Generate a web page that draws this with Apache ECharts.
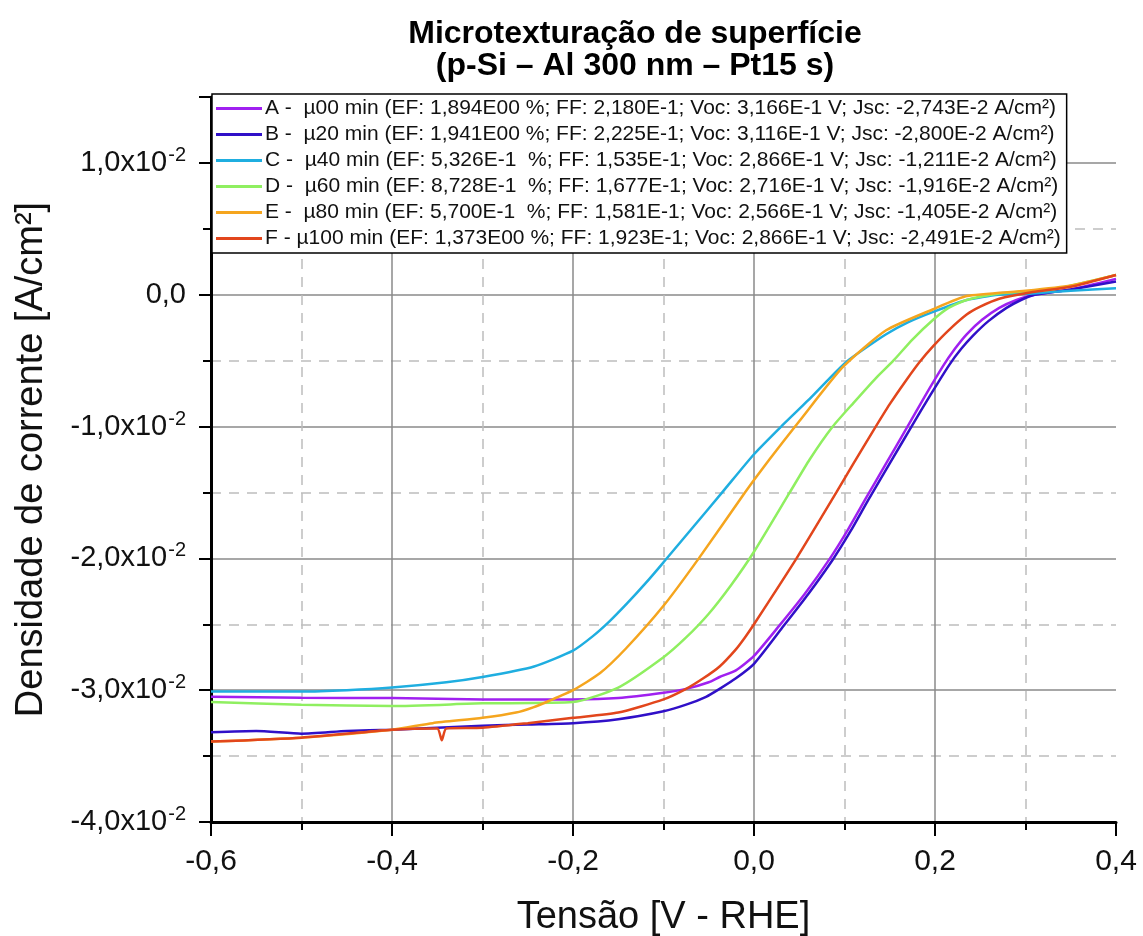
<!DOCTYPE html>
<html>
<head>
<meta charset="utf-8">
<script src="https://cdn.jsdelivr.net/npm/echarts@6/dist/echarts.min.js"></script>
<style>
  html, body { margin: 0; padding: 0; background: #fff; }
  #chart { width: 1143px; height: 936px; }
</style>
</head>
<body>
<div id="chart"></div>
<script>
// ---- Data ----
const seriesNames = [
  'A -  µ00 min (EF: 1,894E00 %; FF: 2,180E-1; Voc: 3,166E-1 V; Jsc: -2,743E-2 A/cm²)',
  'B -  µ20 min (EF: 1,941E00 %; FF: 2,225E-1; Voc: 3,116E-1 V; Jsc: -2,800E-2 A/cm²)',
  'C -  µ40 min (EF: 5,326E-1  %; FF: 1,535E-1; Voc: 2,866E-1 V; Jsc: -1,211E-2 A/cm²)',
  'D -  µ60 min (EF: 8,728E-1  %; FF: 1,677E-1; Voc: 2,716E-1 V; Jsc: -1,916E-2 A/cm²)',
  'E -  µ80 min (EF: 5,700E-1  %; FF: 1,581E-1; Voc: 2,566E-1 V; Jsc: -1,405E-2 A/cm²)',
  'F - µ100 min (EF: 1,373E00 %; FF: 1,923E-1; Voc: 2,866E-1 V; Jsc: -2,491E-2 A/cm²)'
];

const xA = [-0.6,-0.5,-0.4,-0.3,-0.2,-0.15,-0.1,-0.075,-0.05,-0.038,-0.02,0.0,0.028,0.056,0.084,0.104,0.124,0.146,0.168,0.188,0.209,0.222,0.235,0.252,0.271,0.29,0.31,0.35,0.4];
const yA = [-0.0305,-0.03058,-0.0306,-0.0307,-0.0307,-0.0306,-0.0302,-0.0299,-0.0294,-0.0290,-0.0285,-0.0274,-0.0251,-0.0227,-0.0200,-0.0178,-0.0154,-0.0128,-0.0102,-0.0078,-0.0054,-0.0041,-0.0030,-0.0019,-0.0010,-0.0004,0.0,0.0004,0.0012];

const xB = [-0.6,-0.55,-0.5,-0.45,-0.4,-0.3,-0.25,-0.2,-0.15,-0.1,-0.075,-0.053,-0.038,-0.02,0.0,0.033,0.06,0.087,0.107,0.126,0.150,0.174,0.195,0.216,0.229,0.242,0.259,0.279,0.295,0.31,0.35,0.4];
const yB = [-0.0332,-0.0331,-0.0333,-0.0331,-0.0330,-0.0327,-0.0326,-0.0325,-0.0322,-0.0316,-0.0311,-0.0305,-0.0299,-0.0291,-0.0280,-0.0251,-0.0227,-0.0201,-0.0179,-0.0156,-0.0128,-0.0100,-0.0076,-0.0053,-0.0041,-0.0031,-0.0020,-0.0010,-0.0004,0.0,0.0004,0.0010];

const xC = [-0.6,-0.5,-0.45,-0.4,-0.34,-0.3,-0.243,-0.2,-0.178,-0.16,-0.14,-0.12,-0.1,-0.067,-0.034,0.0,0.03,0.06,0.084,0.102,0.12,0.146,0.17,0.198,0.235,0.27,0.308,0.35,0.4];
const yC = [-0.0301,-0.0301,-0.0300,-0.0298,-0.0294,-0.0290,-0.0282,-0.0270,-0.0259,-0.0248,-0.0234,-0.0219,-0.0203,-0.0176,-0.0149,-0.0121,-0.0100,-0.0080,-0.0063,-0.0051,-0.0042,-0.0030,-0.0021,-0.0013,-0.0004,0.0,0.0001,0.0003,0.0005];

const xD = [-0.6,-0.5,-0.4,-0.3,-0.2,-0.15,-0.1,-0.075,-0.05,-0.025,0.0,0.0395,0.0615,0.087,0.11,0.135,0.154,0.175,0.198,0.215,0.235,0.271,0.33,0.4];
const yD = [-0.0309,-0.0311,-0.0312,-0.0310,-0.0309,-0.0298,-0.0275,-0.0260,-0.0242,-0.0220,-0.0195,-0.0150,-0.0125,-0.0100,-0.0082,-0.0063,-0.0050,-0.0034,-0.0019,-0.0010,-0.0004,0.0001,0.0004,0.0015];

const xE = [-0.6,-0.5,-0.4,-0.355,-0.3,-0.263,-0.244,-0.226,-0.2,-0.17,-0.141,-0.1,-0.061,-0.010,0.0,0.017,0.050,0.098,0.146,0.198,0.235,0.3,0.35,0.4];
const yE = [-0.0339,-0.0336,-0.0330,-0.0325,-0.0321,-0.0317,-0.0313,-0.0308,-0.0300,-0.0287,-0.0268,-0.0236,-0.0200,-0.0150,-0.01405,-0.0125,-0.0096,-0.0055,-0.0027,-0.0011,-0.0001,0.0003,0.0007,0.0015];

const xF = [-0.6,-0.5,-0.4,-0.35,-0.345,-0.34,-0.3,-0.25,-0.2,-0.15,-0.1,-0.075,-0.056,-0.038,-0.02,-0.01,0.0,0.047,0.091,0.109,0.131,0.15,0.168,0.183,0.198,0.215,0.235,0.25,0.271,0.308,0.35,0.4];
const yF = [-0.0339,-0.0336,-0.0330,-0.0329,-0.0338,-0.0329,-0.03285,-0.0325,-0.0321,-0.0317,-0.0307,-0.0299,-0.0291,-0.0282,-0.0269,-0.0260,-0.0250,-0.0200,-0.0150,-0.0129,-0.0104,-0.0083,-0.0065,-0.0051,-0.0039,-0.0027,-0.0015,-0.0009,-0.0003,0.0002,0.0006,0.0015];

const seriesX = [xA, xB, xC, xD, xE, xF];
const seriesY = [yA, yB, yC, yD, yE, yF];
const seriesColors = ['#A020F0', '#3010C8', '#1FAEE0', '#8FEF60', '#F5A51E', '#E2461C'];

const xTicks = { min: -0.6, max: 0.4, interval: 0.2 };
const yTicks = { min: -0.04, max: 0.015, interval: 0.01 };

// ---- Chart ----
const FONT = "'Liberation Sans', Arial, sans-serif";
const chart = echarts.init(document.getElementById('chart'), null, { renderer: 'canvas' });

function xLabel(v) {
  if (Math.abs(v) < 1e-9) return '0,0';
  return v.toFixed(1).replace('.', ',');
}
function yLabel(v) {
  const k = Math.round(v * 1000);
  if (k % 10 !== 0) return '';
  if (k === 0) return '{m|0,0}';
  return '{m|' + (v * 100).toFixed(1).replace('.', ',') + 'x10}{s|-2}';
}

const series = seriesNames.map((name, i) => ({
  name: name,
  type: 'line',
  showSymbol: false,
  symbol: 'none',
  smooth: 0.2,
  data: seriesX[i].map((x, j) => [x, seriesY[i][j]]),
  lineStyle: { color: seriesColors[i], width: 2.5 },
  itemStyle: { color: seriesColors[i] },
  z: 3 + i
}));

chart.setOption({
  backgroundColor: '#fff',
  animation: false,
  textStyle: { fontFamily: FONT },
  title: {
    text: 'Microtexturação de superfície\n(p-Si – Al 300 nm – Pt15 s)',
    left: 630,
    top: 13,
    textAlign: 'center',
    textStyle: { fontFamily: FONT, fontSize: 32, fontWeight: 'bold', color: '#000', lineHeight: 32 }
  },
  legend: {
    data: seriesNames,
    orient: 'vertical',
    left: 212,
    top: 94,
    padding: [4, 6, 4, 4],
    itemGap: 5,
    itemWidth: 46,
    itemHeight: 3,
    icon: 'rect',
    backgroundColor: '#fff',
    borderColor: '#000',
    borderWidth: 1.5,
    borderRadius: 0,
    textStyle: { fontFamily: FONT, fontSize: 21, lineHeight: 21, color: '#111', padding: [0, 0, 0, -2] }
  },
  grid: { left: 211, right: 27, top: 97, bottom: 114, containLabel: false, outerBoundsMode: 'none' },
  xAxis: {
    type: 'value',
    min: xTicks.min, max: xTicks.max, interval: xTicks.interval,
    name: 'Tensão [V - RHE]',
    nameLocation: 'middle',
    nameGap: 77,
    nameTextStyle: { fontFamily: FONT, fontSize: 38, color: '#111' },
    axisLine: { show: true, onZero: false, lineStyle: { color: '#000', width: 3 } },
    axisTick: { show: true, length: 14, lineStyle: { color: '#000', width: 2 } },
    minorTick: { show: true, splitNumber: 2, length: 8, lineStyle: { color: '#000', width: 2 } },
    splitLine: { show: true, showMinLine: false, showMaxLine: false, lineStyle: { color: '#8a8a8a', width: 1.5 } },
    minorSplitLine: { show: true, lineStyle: { color: '#bdbdbd', width: 1.5, type: [10, 8] } },
    axisLabel: { fontFamily: FONT, fontSize: 30, color: '#111', margin: 25, formatter: xLabel }
  },
  yAxis: {
    type: 'value',
    min: yTicks.min, max: yTicks.max, interval: yTicks.interval,
    name: 'Densidade de corrente [A/cm²]',
    nameLocation: 'middle',
    nameGap: 160,
    nameTextStyle: { fontFamily: FONT, fontSize: 38, color: '#111' },
    axisLine: { show: true, onZero: false, lineStyle: { color: '#000', width: 3 } },
    axisTick: { show: true, length: 12, lineStyle: { color: '#000', width: 2 } },
    minorTick: { show: true, splitNumber: 2, length: 8, lineStyle: { color: '#000', width: 2 } },
    splitLine: { show: true, showMinLine: false, showMaxLine: false, lineStyle: { color: '#8a8a8a', width: 1.5 } },
    minorSplitLine: { show: true, lineStyle: { color: '#bdbdbd', width: 1.5, type: [10, 8] } },
    axisLabel: {
      margin: 25,
      formatter: yLabel,
      rich: {
        m: { fontFamily: FONT, fontSize: 29, color: '#111' },
        s: { fontFamily: FONT, fontSize: 20, color: '#111', padding: [0, 0, 15, 1] }
      }
    }
  },
  series: series
});
</script>
</body>
</html>
